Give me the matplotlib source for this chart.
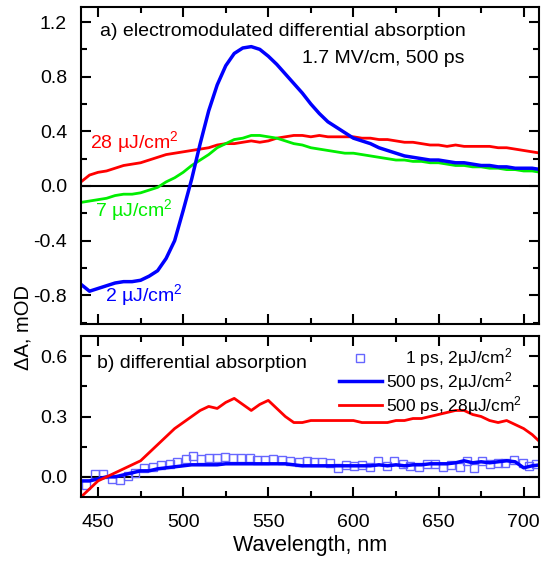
import matplotlib
matplotlib.use("Agg")
import matplotlib.pyplot as plt

plt.rcParams['font.family'] = ['Liberation Sans', 'DejaVu Sans']
plt.rcParams['axes.unicode_minus'] = False
plt.rcParams['mathtext.fontset'] = 'custom'
plt.rcParams['mathtext.rm'] = 'Liberation Sans'
plt.rcParams['mathtext.it'] = 'Liberation Sans:italic'

# ---- panel a: electromodulated differential absorption ----
wl = [440, 445, 450, 455, 460, 465, 470, 475, 480, 485, 490, 495, 500, 505, 510,
      515, 520, 525, 530, 535, 540, 545, 550, 555, 560, 565, 570, 575, 580, 585,
      590, 595, 600, 605, 610, 615, 620, 625, 630, 635, 640, 645, 650, 655, 660,
      665, 670, 675, 680, 685, 690, 695, 700, 705, 710]

em_2uJ = [-0.72, -0.77, -0.75, -0.73, -0.71, -0.70, -0.70, -0.69, -0.66, -0.62,
          -0.53, -0.40, -0.18, 0.05, 0.31, 0.55, 0.74, 0.88, 0.97, 1.01,
          1.02, 1.00, 0.95, 0.89, 0.82, 0.75, 0.68, 0.60, 0.53, 0.47,
          0.43, 0.39, 0.35, 0.33, 0.31, 0.28, 0.26, 0.24, 0.22, 0.21,
          0.20, 0.19, 0.19, 0.18, 0.17, 0.17, 0.16, 0.15, 0.15, 0.14,
          0.14, 0.13, 0.13, 0.13, 0.12]

em_7uJ = [-0.12, -0.11, -0.10, -0.09, -0.07, -0.06, -0.06, -0.05, -0.03, -0.01,
          0.03, 0.06, 0.10, 0.15, 0.19, 0.23, 0.28, 0.31, 0.34, 0.35,
          0.37, 0.37, 0.36, 0.35, 0.33, 0.31, 0.30, 0.28, 0.27, 0.26,
          0.25, 0.24, 0.24, 0.23, 0.22, 0.21, 0.20, 0.19, 0.19, 0.18,
          0.18, 0.17, 0.17, 0.16, 0.15, 0.15, 0.14, 0.14, 0.13, 0.13,
          0.12, 0.12, 0.11, 0.11, 0.10]

em_28uJ = [0.03, 0.08, 0.10, 0.11, 0.13, 0.15, 0.16, 0.17, 0.19, 0.21,
           0.23, 0.24, 0.25, 0.26, 0.27, 0.28, 0.30, 0.31, 0.31, 0.32,
           0.33, 0.32, 0.33, 0.35, 0.36, 0.37, 0.37, 0.36, 0.37, 0.36,
           0.36, 0.36, 0.36, 0.35, 0.35, 0.34, 0.34, 0.33, 0.32, 0.32,
           0.31, 0.30, 0.30, 0.29, 0.30, 0.29, 0.29, 0.29, 0.29, 0.28,
           0.28, 0.27, 0.26, 0.25, 0.24]

# ---- panel b: differential absorption ----
da_500ps_28uJ = [-0.10, -0.06, -0.02, 0.00, 0.02, 0.04, 0.06, 0.08, 0.12, 0.16,
                 0.20, 0.24, 0.27, 0.30, 0.33, 0.35, 0.34, 0.37, 0.39, 0.36,
                 0.33, 0.36, 0.38, 0.34, 0.30, 0.27, 0.27, 0.28, 0.28, 0.28,
                 0.28, 0.28, 0.28, 0.27, 0.27, 0.27, 0.27, 0.28, 0.28, 0.29,
                 0.29, 0.30, 0.31, 0.32, 0.33, 0.33, 0.31, 0.30, 0.28, 0.27,
                 0.28, 0.26, 0.24, 0.21, 0.17]

da_500ps_2uJ = [-0.02, -0.02, -0.01, 0.00, 0.00, 0.01, 0.02, 0.03, 0.03, 0.04,
                0.045, 0.05, 0.055, 0.06, 0.06, 0.06, 0.06, 0.065, 0.065, 0.065,
                0.065, 0.065, 0.065, 0.065, 0.065, 0.06, 0.055, 0.055, 0.055, 0.055,
                0.055, 0.055, 0.055, 0.055, 0.055, 0.06, 0.055, 0.06, 0.055, 0.06,
                0.06, 0.065, 0.065, 0.065, 0.07, 0.08, 0.07, 0.075, 0.07, 0.075,
                0.08, 0.075, 0.045, 0.055, 0.06]

wl_1ps = [443, 448, 453, 458, 463, 467.5, 472, 477, 482, 487, 492, 496.5, 501.5,
          506, 510.5, 515, 520, 524.5, 529, 534, 539, 543.5, 548, 553, 558, 563,
          568, 572.5, 577, 581.5, 586, 591, 595.5, 600.5, 605, 610, 614.5, 619.5,
          624, 629, 633.5, 638.5, 643.5, 648, 652.5, 657.5, 662.5, 667, 671,
          675.5, 680, 685, 689, 694.5, 699.5, 703, 707.5]
da_1ps_2uJ = [-0.04, 0.012, 0.012, -0.01, -0.018, 0.005, 0.02, 0.045, 0.048, 0.058,
              0.062, 0.075, 0.087, 0.103, 0.087, 0.092, 0.092, 0.098, 0.092, 0.095,
              0.092, 0.082, 0.082, 0.087, 0.082, 0.078, 0.075, 0.078, 0.075, 0.073,
              0.07, 0.045, 0.058, 0.053, 0.058, 0.048, 0.078, 0.053, 0.078, 0.065,
              0.053, 0.048, 0.065, 0.065, 0.048, 0.058, 0.048, 0.078, 0.042, 0.078,
              0.065, 0.07, 0.07, 0.082, 0.07, 0.053, 0.062]

fig = plt.figure(figsize=(5.44, 5.62), dpi=100)
ax1 = fig.add_axes([81/544, 1-324/562, 458/544, 317/562])
ax2 = fig.add_axes([81/544, 1-497/562, 458/544, 161/562])

# top panel
ax1.axhline(0, color='black', lw=1.5, zorder=1)
ax1.plot(wl, em_28uJ, color='#ff0000', lw=2)
ax1.plot(wl, em_7uJ, color='#00ee00', lw=2)
ax1.plot(wl, em_2uJ, color='#0000ff', lw=2.5)
ax1.set_ylim(-1.01, 1.31)
ax1.set_yticks([-0.8, -0.4, 0.0, 0.4, 0.8, 1.2])
ax1.set_yticks([-1.0, -0.6, -0.2, 0.2, 0.6, 1.0], minor=True)
ax1.tick_params(labelbottom=False)

ax1.text(100/544, 1-32/562, 'a) electromodulated differential absorption',
         fontsize=14, transform=fig.transFigure, va='center')
ax1.text(0.838, 0.839, '1.7 MV/cm, 500 ps', transform=ax1.transAxes, fontsize=14,
         ha='right', va='center')
ax1.text(445.3, 0.32, '28 µJ/cm$^2$', color='#ff0000', fontsize=14, va='center')
ax1.text(448.2, -0.175, '7 µJ/cm$^2$', color='#00ee00', fontsize=14, va='center')
ax1.text(454, -0.80, '2 µJ/cm$^2$', color='#0000ff', fontsize=14, va='center')

# bottom panel
ax2.axhline(0, color='black', lw=1.5, zorder=1)
ax2.plot(wl_1ps, da_1ps_2uJ, ls='none', marker='s', ms=5.5, mfc='none',
         mec='#6666ff', mew=1, label='    1 ps, 2µJ/cm$^2$')
ax2.plot(wl, da_500ps_2uJ, color='#0000ff', lw=2.5, label='500 ps, 2µJ/cm$^2$')
ax2.plot(wl, da_500ps_28uJ, color='#ff0000', lw=2, label='500 ps, 28µJ/cm$^2$')
ax2.set_ylim(-0.1, 0.7)
ax2.set_yticks([0.0, 0.3, 0.6])
ax2.set_yticks([0.15, 0.45], minor=True)
ax2.text(97/544, 1-363/562, 'b) differential absorption', fontsize=14,
         transform=fig.transFigure, va='center')
ax2.legend(loc='upper right', frameon=False, fontsize=12.5, handlelength=2.5,
           handletextpad=0.2, labelspacing=0.05, borderaxespad=0.2,
           bbox_to_anchor=(0.985, 1.0))
ax2.set_xlabel('Wavelength, nm', fontsize=15.5, labelpad=3)

for ax in (ax1, ax2):
    ax.set_xlim(440, 709)
    ax.set_xticks([450, 500, 550, 600, 650, 700])
    ax.set_xticks([475, 525, 575, 625, 675], minor=True)
    ax.tick_params(which='both', direction='in', top=True, right=True,
                   width=1.5, labelsize=14)
    ax.tick_params(axis='x', pad=12)
    ax.tick_params(axis='y', pad=10)
    ax.tick_params(which='major', length=7)
    ax.tick_params(which='minor', length=4)
    for sp in ax.spines.values():
        sp.set_linewidth(1.5)

fig.text(23/544, 1-327/562, 'ΔA, mOD', rotation=90, fontsize=14.5,
         ha='center', va='center')

fig.savefig('out.png', dpi=100)
